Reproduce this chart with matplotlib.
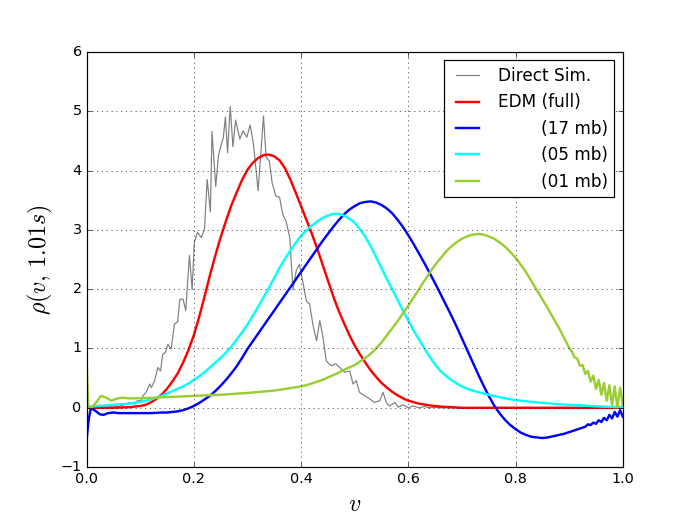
import matplotlib
matplotlib.use("Agg")
import matplotlib.pyplot as plt
import numpy as np

# --- data ---
sim_v = [0.000, 0.010, 0.020, 0.030, 0.040, 0.050, 0.060, 0.070, 0.080, 0.090,
         0.095, 0.102, 0.105, 0.111, 0.118, 0.121, 0.127, 0.133, 0.138, 0.142,
         0.147, 0.152, 0.158, 0.164, 0.170, 0.174, 0.180, 0.185, 0.192, 0.197,
         0.201, 0.207, 0.214, 0.220, 0.225, 0.231, 0.234, 0.241, 0.246, 0.251,
         0.255, 0.259, 0.263, 0.268, 0.273, 0.278, 0.286, 0.292, 0.299, 0.305,
         0.311, 0.320, 0.330, 0.335, 0.341, 0.346, 0.353, 0.360, 0.366, 0.372,
         0.379, 0.385, 0.391, 0.397, 0.404, 0.410, 0.416, 0.422, 0.429, 0.435,
         0.441, 0.447, 0.456, 0.465, 0.472, 0.481, 0.491, 0.497, 0.503, 0.509,
         0.519, 0.528, 0.537, 0.547, 0.553, 0.559, 0.565, 0.575, 0.581, 0.590,
         0.600, 0.609, 0.620, 0.630, 0.640, 0.650, 0.660, 0.680, 0.700]
sim_rho = [0.00, 0.01, 0.00, 0.02, 0.01, 0.03, 0.02, 0.05, 0.09, 0.06,
           0.12, 0.12, 0.20, 0.26, 0.40, 0.34, 0.46, 0.68, 0.62, 0.90,
           0.93, 1.07, 0.99, 1.41, 1.45, 1.83, 1.83, 1.64, 2.57, 1.99,
           2.79, 2.96, 2.87, 3.01, 3.85, 3.30, 4.66, 3.73, 4.25, 4.43,
           4.55, 4.90, 4.30, 5.08, 4.40, 4.85, 4.53, 4.67, 4.56, 4.77,
           4.47, 3.66, 4.92, 4.22, 4.16, 3.80, 3.57, 3.55, 3.26, 3.15,
           2.87, 1.99, 2.31, 2.42, 2.09, 1.80, 1.75, 1.41, 1.13, 1.47,
           1.19, 0.79, 0.71, 0.74, 0.68, 0.60, 0.62, 0.40, 0.46, 0.26,
           0.20, 0.15, 0.09, 0.12, 0.26, 0.09, 0.03, 0.09, 0.01, 0.05,
           0.00, 0.03, 0.00, 0.02, 0.00, 0.01, 0.00, 0.00, 0.00]

# EDM (full)
full_v = ([0.00, 0.05, 0.08] + list(np.linspace(0.10, 0.60, 51))
          + [0.62, 0.64, 0.66, 0.68, 0.70, 0.75, 0.80, 0.90, 1.00])
full_rho = [0.00, 0.00, 0.01,
            0.03, 0.05, 0.09, 0.15, 0.22, 0.32, 0.44, 0.58, 0.76, 0.97,
            1.22, 1.53, 1.87, 2.23, 2.56, 2.87, 3.15, 3.41, 3.63, 3.84,
            4.01, 4.13, 4.21, 4.26, 4.27, 4.24, 4.17, 4.04, 3.85, 3.63,
            3.40, 3.17, 2.94, 2.69, 2.42, 2.15, 1.88, 1.64, 1.43, 1.23,
            1.05, 0.90, 0.76, 0.63, 0.52, 0.42, 0.34, 0.27, 0.21, 0.16,
            0.12,
            0.07, 0.04, 0.02, 0.01, 0.00, 0.00, 0.00, 0.00, 0.00]

# EDM (17 mb)
mb17_v = ([0.000, 0.004, 0.008, 0.015, 0.025, 0.032, 0.040, 0.050, 0.060,
           0.080, 0.100, 0.120, 0.140] + list(np.linspace(0.15, 0.92, 78))
          + list(np.linspace(0.93, 1.00, 15)))
mb17_rho = [-0.56, -0.20, -0.01, -0.04, -0.11, -0.12, -0.09, -0.08, -0.09,
            -0.09, -0.09, -0.09, -0.08,
            -0.08, -0.07, -0.06, -0.04, -0.01,
            0.03, 0.08, 0.14, 0.20, 0.28, 0.37, 0.47, 0.58, 0.70, 0.84,
            0.99, 1.12, 1.25, 1.38, 1.51, 1.64, 1.77, 1.90, 2.03, 2.16,
            2.29, 2.42, 2.55, 2.68, 2.81, 2.93, 3.05, 3.16, 3.26, 3.34,
            3.40, 3.45, 3.47, 3.48, 3.46, 3.42, 3.36, 3.28, 3.17, 3.05,
            2.91, 2.76, 2.60, 2.44, 2.27, 2.10, 1.92, 1.74, 1.56, 1.37,
            1.17, 0.97, 0.77, 0.57, 0.38, 0.20, 0.04, -0.09, -0.20, -0.29,
            -0.36, -0.42, -0.46, -0.49, -0.50, -0.51, -0.50, -0.48, -0.46, -0.44,
            -0.41, -0.38, -0.35,
            -0.32, -0.28, -0.29, -0.25, -0.27, -0.21, -0.24, -0.17, -0.21, -0.12,
            -0.18, -0.07, -0.15, -0.04, -0.15]

# EDM (05 mb)
mb05_v = ([0.000, 0.005, 0.020, 0.050, 0.080] + list(np.linspace(0.10, 0.72, 63))
          + [0.74, 0.76, 0.78, 0.80, 0.84, 0.88, 0.92, 0.96, 1.00])
mb05_rho = [0.09, 0.02, 0.03, 0.05, 0.07,
            0.10, 0.12, 0.14, 0.17, 0.20, 0.24, 0.28, 0.32, 0.36, 0.41,
            0.47, 0.53, 0.60, 0.68, 0.76, 0.84, 0.93, 1.03, 1.15, 1.27,
            1.40, 1.55, 1.70, 1.86, 2.02, 2.19, 2.36, 2.51, 2.65, 2.78,
            2.90, 2.99, 3.07, 3.14, 3.20, 3.24, 3.27, 3.27, 3.24, 3.19,
            3.12, 3.01, 2.88, 2.72, 2.54, 2.36, 2.17, 2.00, 1.82, 1.64,
            1.47, 1.30, 1.15, 1.00, 0.86, 0.73, 0.62, 0.54, 0.47, 0.41,
            0.36, 0.32, 0.29,
            0.24, 0.20, 0.16, 0.13, 0.09, 0.06, 0.04, 0.02, 0.01]

# EDM (01 mb)
mb01_v = ([0.000, 0.003, 0.009, 0.018, 0.027, 0.037, 0.046, 0.055, 0.065,
           0.080, 0.100, 0.150, 0.200, 0.250, 0.300, 0.350]
          + list(np.linspace(0.40, 0.90, 51)) + list(np.linspace(0.905, 1.00, 20)))
mb01_rho = [0.88, 0.03, 0.00, 0.09, 0.20, 0.17, 0.12, 0.15, 0.17,
            0.16, 0.16, 0.18, 0.20, 0.22, 0.25, 0.29,
            0.36, 0.38, 0.41, 0.44, 0.47, 0.51, 0.55, 0.59, 0.64, 0.68,
            0.72, 0.78, 0.84, 0.91, 1.00, 1.10, 1.22, 1.34, 1.46, 1.59,
            1.72, 1.86, 2.00, 2.14, 2.28, 2.41, 2.52, 2.63, 2.72, 2.79,
            2.85, 2.89, 2.92, 2.93, 2.92, 2.89, 2.85, 2.79, 2.72, 2.63,
            2.53, 2.41, 2.28, 2.13, 1.98, 1.83, 1.68, 1.52, 1.36, 1.19,
            1.01,
            0.95, 0.85, 0.83, 0.71, 0.72, 0.57, 0.62, 0.44, 0.54, 0.32,
            0.47, 0.22, 0.42, 0.12, 0.38, 0.05, 0.36, 0.00, 0.34, 0.05]

plt.style.use("classic")

fig = plt.figure(figsize=(8, 6), dpi=86.5)
ax = fig.add_subplot(111)

ax.plot(sim_v, sim_rho, color="0.5", lw=1, label="Direct Sim.")
ax.plot(full_v, full_rho, color="r", lw=2, label="EDM (full)")
ax.plot(mb17_v, mb17_rho, color="b", lw=2, label="        (17 mb)")
ax.plot(mb05_v, mb05_rho, color="cyan", lw=2, label="        (05 mb)")
ax.plot(mb01_v, mb01_rho, color="yellowgreen", lw=2, label="        (01 mb)")

ax.set_xlim(0, 1)
ax.set_ylim(-1, 6)
ax.grid(True)
ax.set_xlabel(r"$v$", fontsize=20)
ax.set_ylabel(r"$\rho(v,\, 1.01s)$", fontsize=20)
ax.legend(loc="upper right", prop={"size": 14})

fig.savefig("out.png", dpi=86.5)
